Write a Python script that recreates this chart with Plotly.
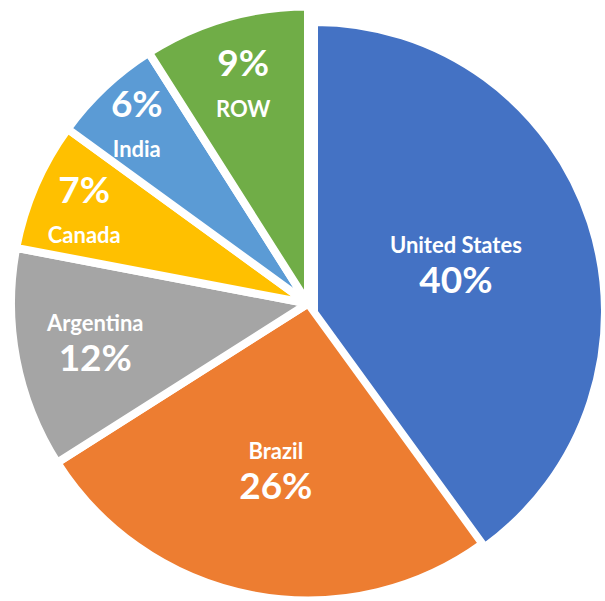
import plotly.graph_objects as go

# ---- data ----
labels = ["United States", "Brazil", "Argentina", "Canada", "India", "ROW"]
shares = [40, 26, 12, 7, 6, 9]
colors = ["#4472C4", "#ED7D31", "#A5A5A5", "#FFC000", "#5B9BD5", "#70AD47"]
label_first = [True, True, True, False, False, False]

W, H = 605, 601
CLEAR = "rgba(0,0,0,0)"

def dom(cx, cy, r):
    return dict(x=[max(0, (cx - r) / W), min(1, (cx + r) / W)],
                y=[max(0, (H - (cy + r)) / H), min(1, (H - (cy - r)) / H)])

def tmpl(first):
    lab = "<span style='font-size:22px'>%{label}</span>"
    pct = "<span style='font-size:37px'>%{percent}</span>"
    return lab + "<br>" + pct if first else pct + "<br>" + lab

def trace(show, domain, lw):
    return go.Pie(
        labels=labels, values=shares, sort=False, direction="clockwise", rotation=0,
        marker=dict(colors=[c if s else CLEAR for c, s in zip(colors, show)],
                    line=dict(color="white", width=[lw if s else 0 for s in show])),
        texttemplate=[tmpl(f) if s else "" for f, s in zip(label_first, show)],
        textposition="inside", insidetextorientation="horizontal",
        insidetextfont=dict(family="Lato", color="white", size=31, weight="bold"),
        hoverinfo="skip", showlegend=False, domain=domain,
    )

others = [l != "United States" for l in labels]
us = [l == "United States" for l in labels]

fig = go.Figure()
fig.add_trace(trace(others, dom(308, 303.5, 297), 8))
fig.add_trace(trace(us, dom(315, 312, 289), 6))
fig.update_layout(width=W, height=H, margin=dict(l=0, r=0, t=0, b=0),
                  paper_bgcolor="white", plot_bgcolor="white",
                  uniformtext=dict(mode="show", minsize=31))
fig.write_html("out.html")
